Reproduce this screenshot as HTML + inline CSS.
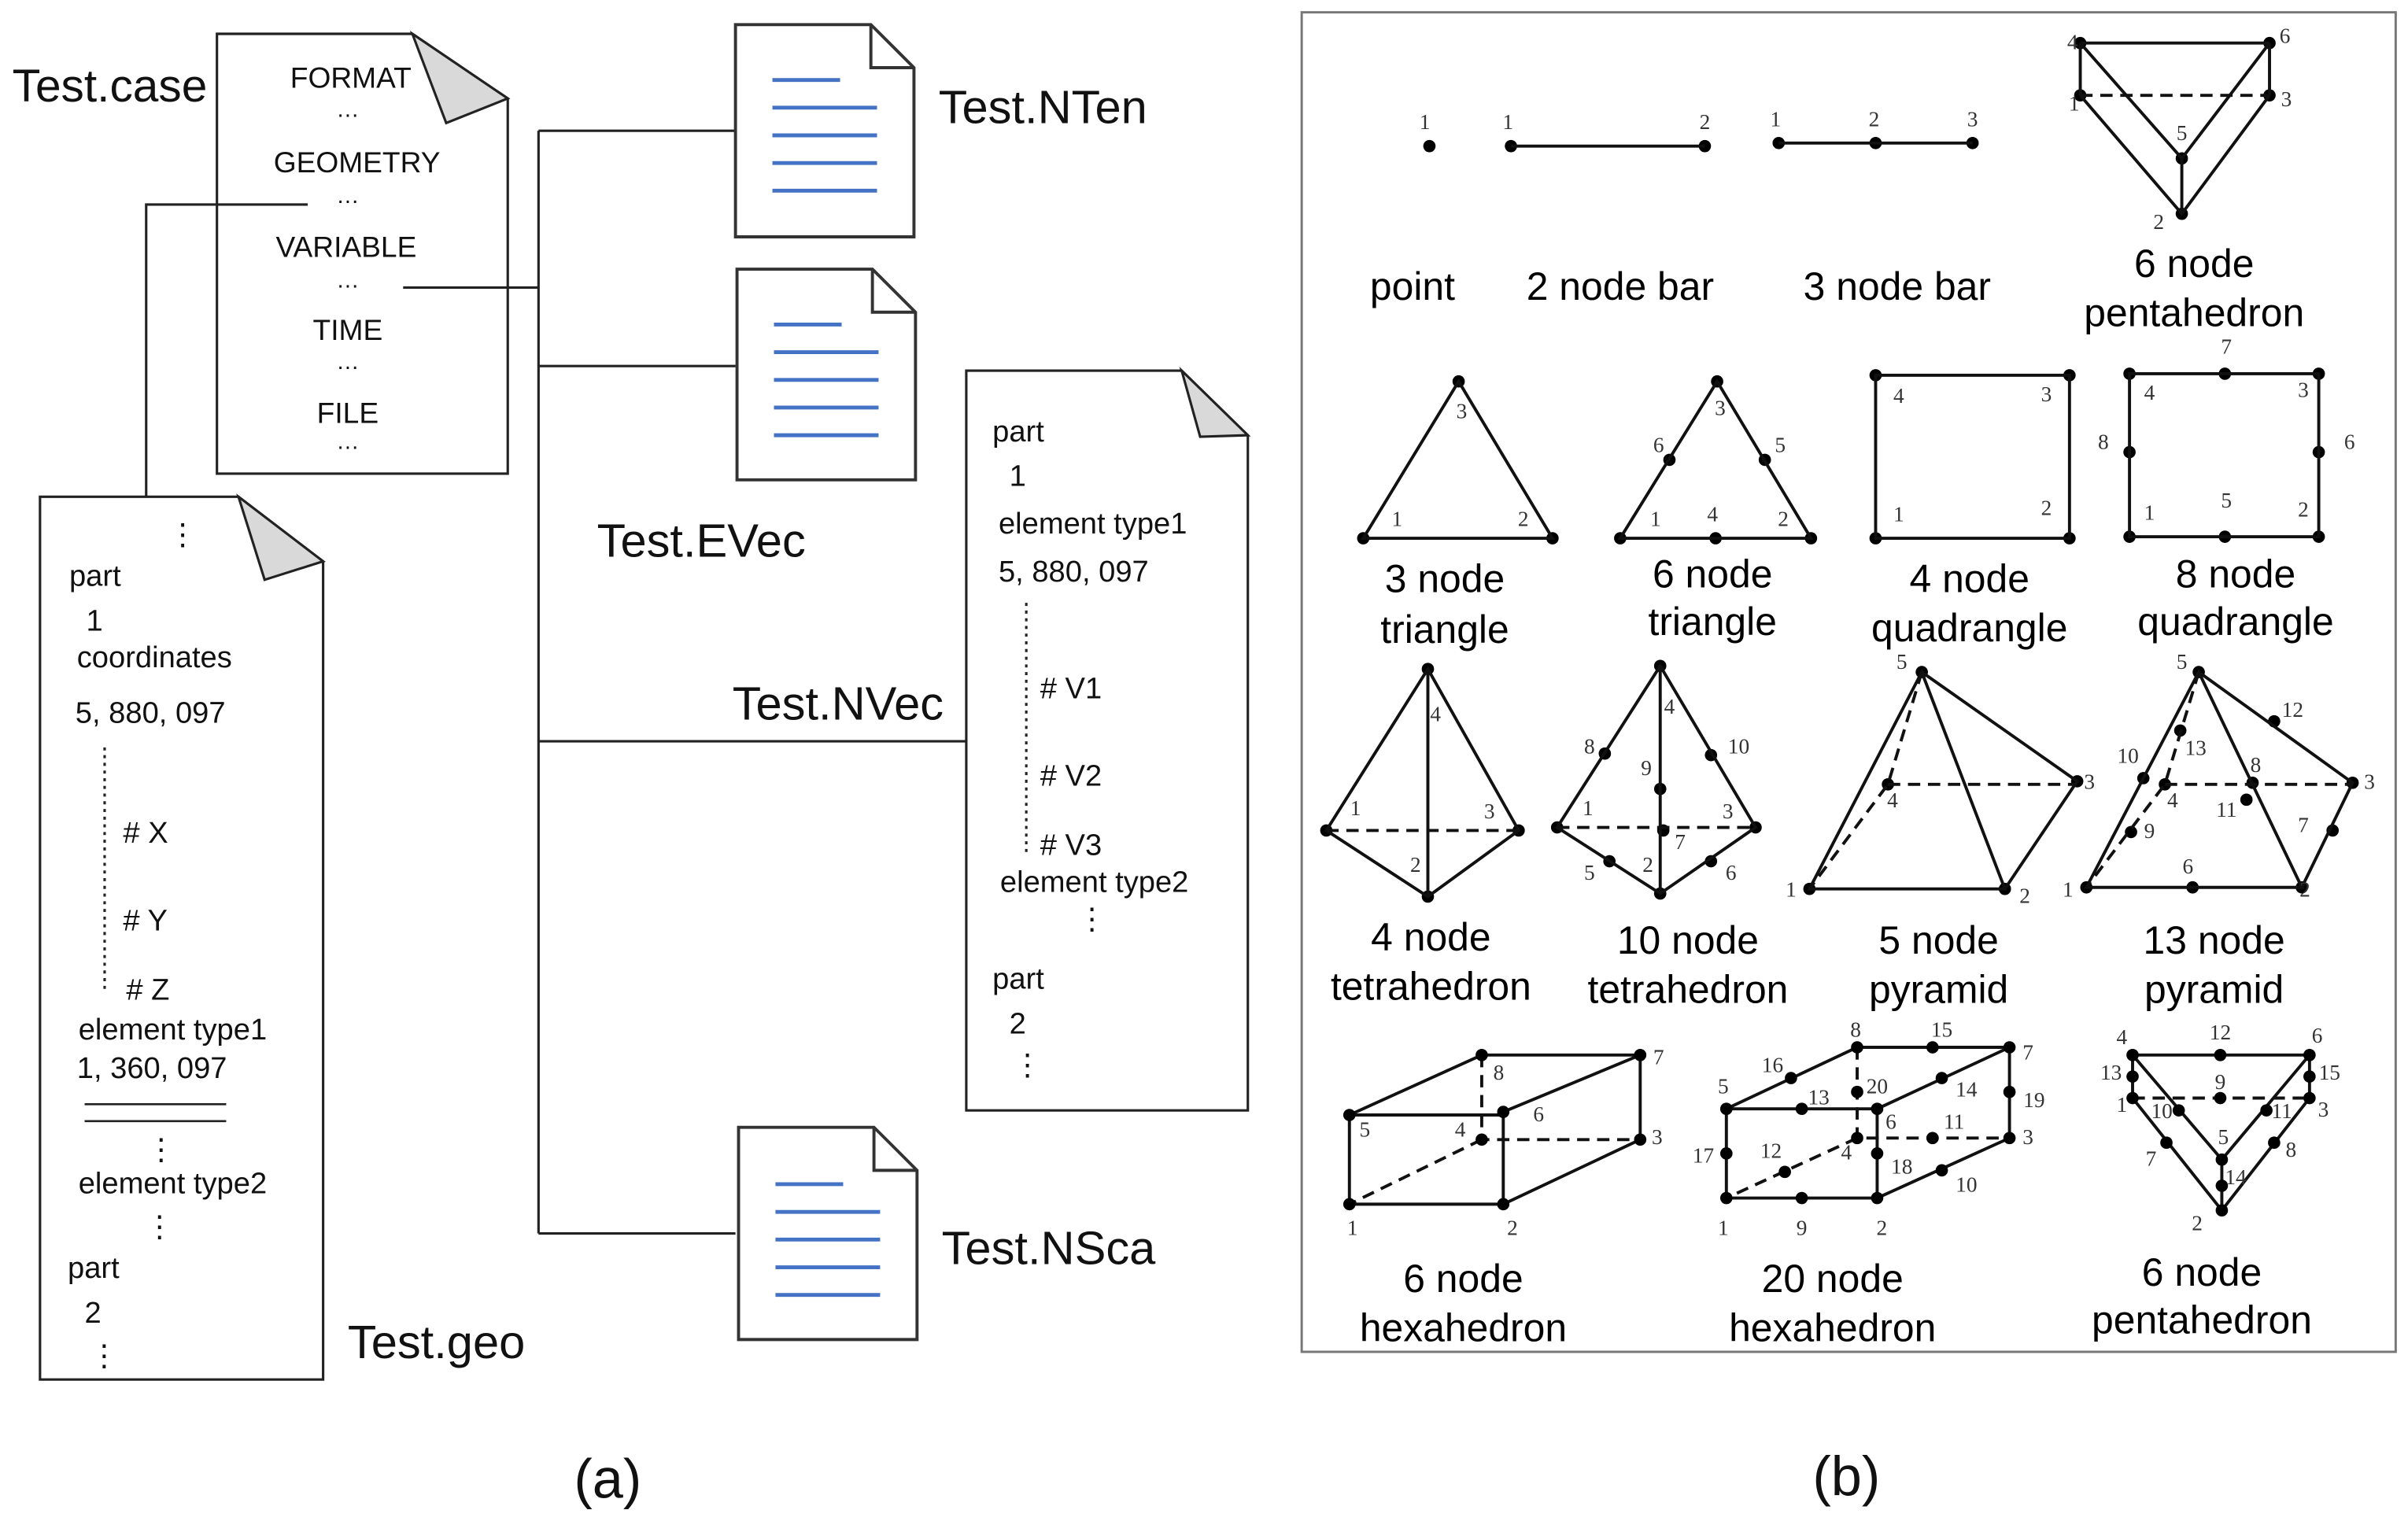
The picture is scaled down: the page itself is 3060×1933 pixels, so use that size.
<!DOCTYPE html>
<html><head><meta charset="utf-8"><style>
html,body{margin:0;padding:0;background:#fff}
svg{display:block}
.t{font-family:"Liberation Sans",sans-serif;fill:#111}
.n{font-family:"Liberation Serif",serif;font-size:14px;fill:#333;text-anchor:middle}
.L{font-family:"Liberation Sans",sans-serif;font-size:25.5px;fill:#000;text-anchor:middle}
.s{stroke:#111;stroke-width:2;fill:none}
.d{stroke:#111;stroke-width:2;fill:none;stroke-dasharray:8 5}
.b{stroke:#4472c4;stroke-width:2.5}
</style></head><body>
<svg width="3060" height="1933" viewBox="0 0 1565 989" preserveAspectRatio="none" xmlns="http://www.w3.org/2000/svg">
<rect width="1565" height="989" fill="#fff"/>
<text class="t" x="8" y="66" font-size="30">Test.case</text>
<path d="M141,22 L268,22 L330,64 L330,308 L141,308 Z" fill="#fff" stroke="#222" stroke-width="1.6"/>
<path d="M268,22 L290,80 L330,64 Z" fill="#d9d9d9" stroke="#222" stroke-width="1.6"/>
<g class="t" font-size="19" text-anchor="middle">
<text x="228" y="57">FORMAT</text><text x="226" y="76" font-size="15">…</text>
<text x="232" y="112">GEOMETRY</text><text x="226" y="132" font-size="15">…</text>
<text x="225" y="167">VARIABLE</text><text x="226" y="187" font-size="15">…</text>
<text x="226" y="221">TIME</text><text x="226" y="240" font-size="15">…</text>
<text x="226" y="275">FILE</text><text x="226" y="292" font-size="15">…</text>
</g>
<g stroke="#222" stroke-width="1.6" fill="none">
<path d="M95,325 V133 H200"/>
<path d="M262,187 H350"/>
<path d="M350,85 V802"/>
<path d="M350,85 H478 M350,238 H478 M350,482 H628 M350,802 H478"/>
</g>
<g stroke="#333" stroke-width="2" fill="#fff">
<path d="M478,16 H566 L594,44 V154 H478 Z"/><path d="M566,16 V44 H594" fill="none"/>
<path d="M479,175 H567 L595,203 V312 H479 Z"/><path d="M567,175 V203 H595" fill="none"/>
<path d="M480,733 H568 L596,761 V871 H480 Z"/><path d="M568,733 V761 H596" fill="none"/>
</g>
<g class="b">
<path d="M502,52 H546 M502,70 H570 M502,88 H570 M502,106 H570 M502,124 H570"/>
<path d="M503,211 H547 M503,229 H571 M503,247 H571 M503,265 H571 M503,283 H571"/>
<path d="M504,770 H548 M504,788 H572 M504,806 H572 M504,824 H572 M504,842 H572"/>
</g>
<g class="t" font-size="30.5">
<text x="610" y="80">Test.NTen</text>
<text x="388" y="362">Test.EVec</text>
<text x="476" y="468">Test.NVec</text>
<text x="612" y="822">Test.NSca</text>
<text x="226" y="883">Test.geo</text>
</g>
<path d="M26,323 L155,323 L210,365 L210,897 L26,897 Z" fill="#fff" stroke="#222" stroke-width="1.6"/>
<path d="M155,323 L172,377 L210,365 Z" fill="#d9d9d9" stroke="#222" stroke-width="1.6"/>
<g class="t" font-size="19.5">
<text x="109" y="354">⋮</text>
<text x="45" y="381">part</text>
<text x="56" y="410">1</text>
<text x="50" y="434">coordinates</text>
<text x="49" y="470">5, 880, 097</text>
<text x="80" y="548"># X</text>
<text x="80" y="605"># Y</text>
<text x="82" y="650"># Z</text>
<text x="51" y="676">element type1</text>
<text x="50" y="701">1, 360, 097</text>
<text x="95" y="754">⋮</text>
<text x="51" y="776">element type2</text>
<text x="94" y="804">⋮</text>
<text x="44" y="831">part</text>
<text x="55" y="860">2</text>
<text x="58" y="888">⋮</text>
</g>
<path d="M68,486 V645" stroke="#222" stroke-width="1.6" stroke-dasharray="2 3"/>
<path d="M55,718 H147 M55,729 H147" stroke="#222" stroke-width="1.3"/>
<path d="M628,241 L768,241 L811,283 L811,722 L628,722 Z" fill="#fff" stroke="#222" stroke-width="1.6"/>
<path d="M768,241 L780,284 L811,283 Z" fill="#d9d9d9" stroke="#222" stroke-width="1.6"/>
<g class="t" font-size="19.5">
<text x="645" y="287">part</text>
<text x="656" y="316">1</text>
<text x="649" y="347">element type1</text>
<text x="649" y="378">5, 880, 097</text>
<text x="676" y="454"># V1</text>
<text x="676" y="511"># V2</text>
<text x="676" y="556"># V3</text>
<text x="650" y="580">element type2</text>
<text x="700" y="604">⋮</text>
<text x="645" y="643">part</text>
<text x="656" y="672">2</text>
<text x="658" y="699">⋮</text>
</g>
<path d="M667,392 V555" stroke="#222" stroke-width="1.6" stroke-dasharray="2 3"/>
<text class="t" x="395" y="974" font-size="36" text-anchor="middle">(a)</text>
<text class="t" x="1200" y="972" font-size="36" text-anchor="middle">(b)</text>

<rect x="846" y="8" width="711" height="871" fill="#fff" stroke="#777" stroke-width="1.5"/>
<g fill="#000">
<circle cx="929" cy="95" r="4"/>
<circle cx="982" cy="95" r="4"/><circle cx="1108" cy="95" r="4"/>
<circle cx="1156" cy="93" r="4"/><circle cx="1219" cy="93" r="4"/><circle cx="1282" cy="93" r="4"/>
<circle cx="1352" cy="28" r="4"/><circle cx="1475" cy="28" r="4"/><circle cx="1352" cy="62" r="4"/><circle cx="1475" cy="62" r="4"/><circle cx="1418" cy="103" r="4"/><circle cx="1418" cy="139" r="4"/>
</g>
<path class="s" d="M982,95 H1108 M1156,93 H1282 M1352,28 H1475 M1352,28 V62 M1475,28 V62 M1352,28 L1418,103 L1475,28 M1352,62 L1418,139 L1475,62 M1418,103 V139"/>
<path class="d" d="M1352,62 H1475"/>
<g class="n">
<text x="926" y="84">1</text><text x="980" y="84">1</text><text x="1108" y="84">2</text>
<text x="1154" y="82">1</text><text x="1218" y="82">2</text><text x="1282" y="82">3</text>
<text x="1347" y="32">4</text><text x="1485" y="28">6</text><text x="1348" y="72">1</text><text x="1486" y="69">3</text><text x="1418" y="91">5</text><text x="1403" y="149">2</text>
</g>
<g class="L">
<text x="918" y="195">point</text><text x="1053" y="195">2 node bar</text><text x="1233" y="195">3 node bar</text>
<text x="1426" y="180">6 node</text><text x="1426" y="212">pentahedron</text>
</g>
<g fill="#000">
<circle cx="886" cy="350" r="4"/><circle cx="948" cy="248" r="4"/><circle cx="1009" cy="350" r="4"/>
<circle cx="1053" cy="350" r="4"/><circle cx="1116" cy="248" r="4"/><circle cx="1177" cy="350" r="4"/><circle cx="1115" cy="350" r="4"/><circle cx="1085" cy="299" r="4"/><circle cx="1147" cy="299" r="4"/>
<circle cx="1219" cy="244" r="4"/><circle cx="1345" cy="244" r="4"/><circle cx="1219" cy="350" r="4"/><circle cx="1345" cy="350" r="4"/>
<circle cx="1384" cy="243" r="4"/><circle cx="1507" cy="243" r="4"/><circle cx="1384" cy="349" r="4"/><circle cx="1507" cy="349" r="4"/><circle cx="1446" cy="243" r="4"/><circle cx="1446" cy="349" r="4"/><circle cx="1384" cy="294" r="4"/><circle cx="1507" cy="294" r="4"/>
</g>
<path class="s" d="M886,350 L948,248 L1009,350 Z M1053,350 L1116,248 L1177,350 Z"/>
<rect class="s" x="1219" y="244" width="126" height="106"/>
<rect class="s" x="1384" y="243" width="123" height="106"/>
<g class="n">
<text x="950" y="272">3</text><text x="908" y="342">1</text><text x="990" y="342">2</text>
<text x="1078" y="294">6</text><text x="1157" y="294">5</text><text x="1118" y="270">3</text><text x="1076" y="342">1</text><text x="1113" y="339">4</text><text x="1159" y="342">2</text>
<text x="1234" y="262">4</text><text x="1330" y="261">3</text><text x="1234" y="339">1</text><text x="1330" y="335">2</text>
<text x="1447" y="230">7</text><text x="1397" y="260">4</text><text x="1497" y="258">3</text><text x="1367" y="292">8</text><text x="1527" y="292">6</text><text x="1397" y="338">1</text><text x="1447" y="330">5</text><text x="1497" y="336">2</text>
</g>
<g class="L">
<text x="939" y="385">3 node</text><text x="939" y="418">triangle</text>
<text x="1113" y="382">6 node</text><text x="1113" y="413">triangle</text>
<text x="1280" y="385">4 node</text><text x="1280" y="417">quadrangle</text>
<text x="1453" y="382">8 node</text><text x="1453" y="413">quadrangle</text>
</g>
<g fill="#000">
<circle cx="928" cy="435" r="4"/><circle cx="862" cy="540" r="4"/><circle cx="987" cy="540" r="4"/><circle cx="928" cy="583" r="4"/>
<circle cx="1079" cy="433" r="4"/><circle cx="1012" cy="538" r="4"/><circle cx="1141" cy="538" r="4"/><circle cx="1079" cy="581" r="4"/><circle cx="1043" cy="490" r="4"/><circle cx="1112" cy="491" r="4"/><circle cx="1079" cy="513" r="4"/><circle cx="1081" cy="540" r="4"/><circle cx="1046" cy="560" r="4"/><circle cx="1112" cy="560" r="4"/>
<circle cx="1249" cy="437" r="4"/><circle cx="1227" cy="510" r="4"/><circle cx="1350" cy="508" r="4"/><circle cx="1176" cy="578" r="4"/><circle cx="1303" cy="578" r="4"/>
<circle cx="1429" cy="437" r="4"/><circle cx="1407" cy="510" r="4"/><circle cx="1529" cy="509" r="4"/><circle cx="1356" cy="577" r="4"/><circle cx="1496" cy="577" r="4"/><circle cx="1478" cy="469" r="4"/><circle cx="1417" cy="475" r="4"/><circle cx="1393" cy="506" r="4"/><circle cx="1464" cy="509" r="4"/><circle cx="1460" cy="520" r="4"/><circle cx="1385" cy="541" r="4"/><circle cx="1516" cy="540" r="4"/><circle cx="1425" cy="577" r="4"/>
</g>
<path class="s" d="M862,540 L928,435 L987,540 L928,583 Z M928,435 V583"/>
<path class="d" d="M862,540 H987"/>
<path class="s" d="M1012,538 L1079,433 L1141,538 L1079,581 Z M1079,433 V581"/>
<path class="d" d="M1012,538 H1141"/>
<path class="s" d="M1176,578 L1249,437 L1303,578 Z M1249,437 L1350,508 L1303,578"/>
<path class="d" d="M1249,437 L1227,510 L1176,578 M1227,510 H1350"/>
<path class="s" d="M1356,577 L1429,437 L1496,577 Z M1429,437 L1529,509 L1496,577"/>
<path class="d" d="M1429,437 L1407,510 L1356,577 M1407,510 H1529"/>
<g class="n">
<text x="933" y="469">4</text><text x="881" y="530">1</text><text x="968" y="532">3</text><text x="920" y="567">2</text>
<text x="1085" y="464">4</text><text x="1033" y="490">8</text><text x="1130" y="490">10</text><text x="1070" y="504">9</text><text x="1032" y="530">1</text><text x="1123" y="532">3</text><text x="1092" y="552">7</text><text x="1071" y="567">2</text><text x="1033" y="572">5</text><text x="1125" y="572">6</text>
<text x="1236" y="435">5</text><text x="1230" y="525">4</text><text x="1358" y="513">3</text><text x="1164" y="583">1</text><text x="1316" y="587">2</text>
<text x="1418" y="435">5</text><text x="1490" y="466">12</text><text x="1427" y="491">13</text><text x="1383" y="496">10</text><text x="1466" y="502">8</text><text x="1412" y="525">4</text><text x="1447" y="531">11</text><text x="1397" y="545">9</text><text x="1497" y="541">7</text><text x="1422" y="568">6</text><text x="1540" y="513">3</text><text x="1344" y="583">1</text><text x="1498" y="583">2</text>
</g>
<g class="L">
<text x="930" y="618">4 node</text><text x="930" y="650">tetrahedron</text>
<text x="1097" y="620">10 node</text><text x="1097" y="652">tetrahedron</text>
<text x="1260" y="620">5 node</text><text x="1260" y="652">pyramid</text>
<text x="1439" y="620">13 node</text><text x="1439" y="652">pyramid</text>
</g>
<path class="s" d="M877,725 H977 V783 H877 Z M877,725 L963,686 H1066 L977,723 M1066,686 V741 L977,783"/>
<path class="d" d="M963,686 V741 H1066 M963,741 L877,783"/>
<g fill="#000">
<circle cx="877" cy="725" r="4"/><circle cx="977" cy="723" r="4"/><circle cx="977" cy="783" r="4"/><circle cx="877" cy="783" r="4"/><circle cx="963" cy="686" r="4"/><circle cx="1066" cy="686" r="4"/><circle cx="1066" cy="741" r="4"/><circle cx="963" cy="741" r="4"/>
</g>
<path class="s" d="M1122,721 H1220 V779 H1122 Z M1122,721 L1207,681 H1306 L1220,721 M1306,681 V740 L1220,779"/>
<path class="d" d="M1207,681 V740 H1306 M1207,740 L1122,779"/>
<g fill="#000">
<circle cx="1122" cy="721" r="4"/><circle cx="1220" cy="721" r="4"/><circle cx="1220" cy="779" r="4"/><circle cx="1122" cy="779" r="4"/><circle cx="1207" cy="681" r="4"/><circle cx="1306" cy="681" r="4"/><circle cx="1306" cy="740" r="4"/><circle cx="1207" cy="740" r="4"/>
<circle cx="1164" cy="701" r="4"/><circle cx="1256" cy="681" r="4"/><circle cx="1171" cy="721" r="4"/><circle cx="1207" cy="710" r="4"/><circle cx="1262" cy="701" r="4"/><circle cx="1306" cy="710" r="4"/><circle cx="1122" cy="750" r="4"/><circle cx="1220" cy="750" r="4"/><circle cx="1256" cy="740" r="4"/><circle cx="1160" cy="762" r="4"/><circle cx="1262" cy="761" r="4"/><circle cx="1171" cy="779" r="4"/>
</g>
<path class="s" d="M1386,686 H1501 M1386,686 V714 M1501,686 V714 M1386,686 L1444,754 L1501,686 M1386,714 L1444,787 L1501,714 M1444,754 V787"/>
<path class="d" d="M1386,714 H1501"/>
<g fill="#000">
<circle cx="1386" cy="686" r="4"/><circle cx="1443" cy="686" r="4"/><circle cx="1501" cy="686" r="4"/><circle cx="1386" cy="700" r="4"/><circle cx="1501" cy="700" r="4"/><circle cx="1386" cy="714" r="4"/><circle cx="1501" cy="714" r="4"/><circle cx="1443" cy="714" r="4"/><circle cx="1416" cy="722" r="4"/><circle cx="1473" cy="722" r="4"/><circle cx="1408" cy="743" r="4"/><circle cx="1478" cy="743" r="4"/><circle cx="1444" cy="754" r="4"/><circle cx="1444" cy="771" r="4"/><circle cx="1444" cy="787" r="4"/>
</g>
<g class="n">
<text x="974" y="702">8</text><text x="1078" y="692">7</text><text x="887" y="739">5</text><text x="949" y="739">4</text><text x="1000" y="729">6</text><text x="1077" y="744">3</text><text x="879" y="803">1</text><text x="983" y="803">2</text>
<text x="1206" y="674">8</text><text x="1262" y="674">15</text><text x="1318" y="689">7</text><text x="1152" y="697">16</text><text x="1120" y="711">5</text><text x="1182" y="718">13</text><text x="1220" y="711">20</text><text x="1278" y="713">14</text><text x="1322" y="720">19</text><text x="1229" y="734">6</text><text x="1270" y="734">11</text><text x="1318" y="744">3</text><text x="1107" y="756">17</text><text x="1151" y="753">12</text><text x="1200" y="754">4</text><text x="1236" y="763">18</text><text x="1278" y="775">10</text><text x="1120" y="803">1</text><text x="1171" y="803">9</text><text x="1223" y="803">2</text>
<text x="1379" y="679">4</text><text x="1443" y="676">12</text><text x="1506" y="678">6</text><text x="1372" y="702">13</text><text x="1514" y="702">15</text><text x="1379" y="723">1</text><text x="1405" y="727">10</text><text x="1443" y="708">9</text><text x="1483" y="727">11</text><text x="1510" y="726">3</text><text x="1398" y="758">7</text><text x="1489" y="752">8</text><text x="1445" y="744">5</text><text x="1453" y="770">14</text><text x="1428" y="800">2</text>
</g>
<g class="L">
<text x="951" y="840">6 node</text><text x="951" y="872">hexahedron</text>
<text x="1191" y="840">20 node</text><text x="1191" y="872">hexahedron</text>
<text x="1431" y="836">6 node</text><text x="1431" y="867">pentahedron</text>
</g>
</svg>
</body></html>
